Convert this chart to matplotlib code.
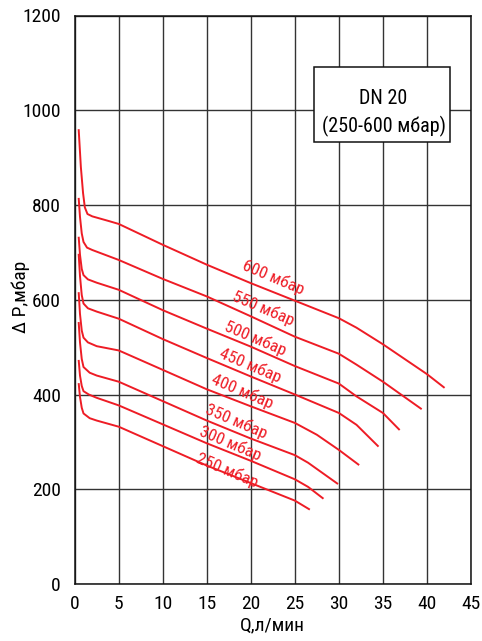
import matplotlib
matplotlib.use("Agg")
import matplotlib.pyplot as plt
from matplotlib import font_manager as fm

# ---------------- data ----------------
q600 = [0.45, 0.7, 0.95, 1.15, 1.45, 2.0, 3.9, 5, 10, 15, 20, 25, 30, 32, 35, 40, 42]
p600 = [960, 880, 825, 795, 781, 776, 766, 760, 716, 674, 635, 598, 561, 541, 506, 443, 414]

q550 = [0.45, 0.6, 0.8, 1.0, 1.4, 2.0, 5, 10, 15, 20, 25, 30, 32, 35, 39.4]
p550 = [815, 775, 740, 722, 710, 705, 684, 644, 607, 565, 522, 486, 463, 427, 369]

q500 = [0.45, 0.6, 0.8, 1.0, 1.5, 2.5, 5, 10, 15, 20, 25, 30, 32, 35, 36.9]
p500 = [733, 695, 665, 652, 643, 636, 621, 578, 539, 501, 460, 423, 396, 361, 325]

q450 = [0.45, 0.6, 0.8, 1.0, 1.5, 2.5, 5, 10, 15, 20, 25, 30, 32, 34.5]
p450 = [697, 650, 610, 592, 582, 575, 560, 517, 477, 438, 400, 361, 336, 290]

q400 = [0.45, 0.6, 0.8, 1.0, 1.5, 2.5, 5, 10, 15, 20, 25, 27.5, 30, 32.3]
p400 = [616, 570, 535, 520, 510, 502, 493, 452, 411, 375, 340, 315, 283, 251]

q350 = [0.45, 0.6, 0.8, 1.0, 1.7, 2.5, 5, 10, 15, 20, 25, 26.5, 29.9]
p350 = [553, 510, 475, 458, 446, 440, 427, 386, 345, 307, 272, 256, 211]

q300 = [0.45, 0.6, 0.8, 1.0, 1.6, 2.5, 5, 10, 15, 20, 25, 26.5, 28.25]
p300 = [473, 440, 418, 407, 400, 393, 377, 337, 297, 260, 221, 205, 180]

q250 = [0.45, 0.6, 0.8, 1.0, 1.7, 2.5, 5, 10, 15, 20, 25, 26.7]
p250 = [424, 395, 372, 360, 350, 345, 332, 291, 250, 213, 176, 157]

series_q = [q600, q550, q500, q450, q400, q350, q300, q250]
series_p = [p600, p550, p500, p450, p400, p350, p300, p250]
series_labels = ["600 мбар", "550 мбар", "500 мбар", "450 мбар",
                 "400 мбар", "350 мбар", "300 мбар", "250 мбар"]
label_q = [22.6, 21.4, 20.5, 19.9, 19.0, 18.4, 17.65, 17.3]
label_p = [648, 581, 518, 461, 406, 344, 296, 239]

x_ticks = [0, 5, 10, 15, 20, 25, 30, 35, 40, 45]
y_ticks = [0, 200, 400, 600, 800, 1000, 1200]
box_title = "DN 20"
box_sub = "(250-600 мбар)"
x_label = "Q,л/мин"
y_label = "Δ P,мбар"

# ---------------- fonts ----------------
names = {f.name for f in fm.fontManager.ttflist}
main = "Liberation Sans"
for cand in ["Roboto Condensed", "PT Sans Narrow", "Liberation Sans Narrow", "Archivo Narrow"]:
    if cand in names:
        main = cand
        break
plt.rcParams["font.family"] = [main, "DejaVu Sans"]

red = "#ee1c25"
grid_c = "#333333"

fig = plt.figure(figsize=(4.82, 6.41), dpi=100)
ax = fig.add_axes([74.7 / 482, 57 / 641, (471 - 74.7) / 482, 568.5 / 641])
ax.set_xlim(0, 45)
ax.set_ylim(0, 1200)
ax.set_xticks(x_ticks)
ax.set_yticks(y_ticks)
ax.grid(True, color=grid_c, linewidth=1.0)
ax.set_axisbelow(True)
for s in ax.spines.values():
    s.set_color("#111111")
    s.set_linewidth(1.1)
ax.tick_params(length=0, labelsize=14, pad=10)
ax.tick_params(axis="x", pad=8)

for q, p in zip(series_q, series_p):
    ax.plot(q, p, color=red, linewidth=1.4, solid_capstyle="butt", zorder=3)

for lab, lq, lp in zip(series_labels, label_q, label_p):
    ax.text(lq, lp, lab, color=red, fontsize=12.3, rotation=-23,
            rotation_mode="anchor", ha="center", va="center", zorder=4)

ax.set_xlabel(x_label, fontsize=14, labelpad=2)
ax.set_ylabel(y_label, fontsize=14)
ax.yaxis.set_label_coords(-0.113, 0.505)

# legend-like box
ax.add_patch(plt.Rectangle((27.2, 934), 42.57 - 27.2, 1092 - 934, facecolor="white",
                           edgecolor="#111111", linewidth=1.1, zorder=5))
ax.text(35.07, 1024, box_title, fontsize=14.5, ha="center", va="center", zorder=6)
ax.text(35.07, 966, box_sub, fontsize=14.5, ha="center", va="center", zorder=6)

fig.savefig("out.png", dpi=100)
